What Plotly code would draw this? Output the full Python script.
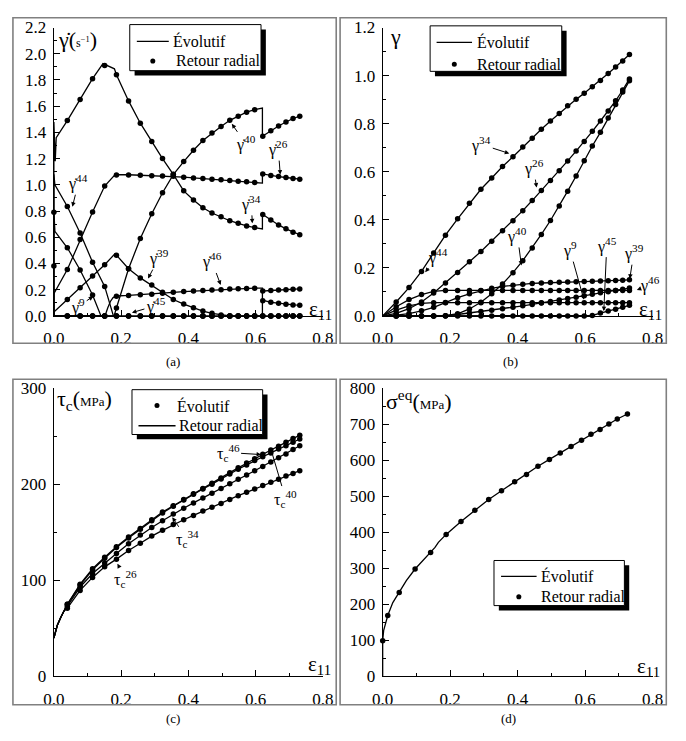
import plotly.graph_objects as go

FONT = "Liberation Serif"
W, H = 686, 741

# ---------------- data ----------------
# strain grid of the "Retour radial" dots (panels a, b, c)
eps = [0.040, 0.078, 0.115, 0.151, 0.186, 0.222, 0.257, 0.291, 0.323, 0.355,
       0.386, 0.415, 0.443, 0.470, 0.497, 0.523, 0.548, 0.573, 0.597, 0.621,
       0.645, 0.668, 0.690, 0.711, 0.731]

# tick labels
x_ticks = [0.0, 0.2, 0.4, 0.6, 0.8]
x_ticktext = ["0.0", "0.2", "0.4", "0.6", "0.8"]
ya_ticks = [0.0, 0.2, 0.4, 0.6, 0.8, 1.0, 1.2, 1.4, 1.6, 1.8, 2.0, 2.2]
ya_ticktext = ["0.0", "0.2", "0.4", "0.6", "0.8", "1.0", "1.2", "1.4", "1.6", "1.8", "2.0", "2.2"]
yb_ticks = [0.0, 0.2, 0.4, 0.6, 0.8, 1.0, 1.2]
yb_ticktext = ["0.0", "0.2", "0.4", "0.6", "0.8", "1.0", "1.2"]
yc_ticks = [0, 100, 200, 300]
yc_ticktext = ["0", "100", "200", "300"]
yd_ticks = [0, 100, 200, 300, 400, 500, 600, 700, 800]
yd_ticktext = ["0", "100", "200", "300", "400", "500", "600", "700", "800"]

# (a) slip rates, dots
ra_34 = [1.49, 1.65, 1.81, 1.91, 1.84, 1.64, 1.47, 1.33, 1.20, 1.08, 0.954, 0.885, 0.825,
         0.785, 0.756, 0.726, 0.706, 0.686, 0.674, 0.773, 0.731, 0.694, 0.664, 0.639, 0.619]
ra_40 = [0, 0, 0, 0, 0.06, 0.36, 0.59, 0.78, 0.94, 1.078, 1.177, 1.264, 1.338, 1.395, 1.445,
         1.492, 1.524, 1.554, 1.573, 1.37, 1.412, 1.449, 1.479, 1.506, 1.524]
ra_26 = [0.354, 0.582, 0.793, 0.991, 1.075, 1.075, 1.073, 1.070, 1.068, 1.065, 1.058, 1.053,
         1.048, 1.043, 1.038, 1.033, 1.028, 1.023, 1.018, 1.083, 1.071, 1.063, 1.056, 1.048, 1.043]
ra_44 = [0.835, 0.632, 0.41, 0.225, 0, 0, 0, 0, 0, 0, 0, 0, 0, 0, 0, 0, 0, 0, 0, 0, 0, 0, 0, 0, 0]
ra_9 = [0.52, 0.35, 0.16, 0, 0, 0, 0, 0, 0, 0, 0, 0, 0, 0, 0, 0, 0, 0, 0, 0, 0, 0, 0, 0, 0]
ra_39 = [0.125, 0.215, 0.305, 0.39, 0.463, 0.36, 0.29, 0.235, 0.18, 0.125, 0.09, 0.062, 0.037,
         0.02, 0.007, 0, 0, 0, 0, 0, 0, 0, 0, 0, 0]
ra_46 = [0, 0, 0, 0, 0.15, 0.156, 0.161, 0.166, 0.173, 0.18, 0.186, 0.19, 0.193, 0.198, 0.2,
         0.205, 0.208, 0.21, 0.212, 0.191, 0.194, 0.197, 0.2, 0.203, 0.206]
ra_45 = [0, 0, 0, 0, 0, 0, 0, 0, 0, 0, 0, 0, 0, 0, 0, 0, 0, 0, 0, 0.116, 0.104, 0.097, 0.089,
         0.084, 0.082]
ra_0x = [0.0, 0.0]
ra_0y = [0.79, 0.38]

# (a) slip rates, lines (Évolutif)
la_34x = [0, 0, 0.004, 0.007, 0.040, 0.078, 0.115, 0.146, 0.165, 0.180, 0.186, 0.222, 0.257,
          0.291, 0.323, 0.355, 0.386, 0.415, 0.443, 0.470, 0.497, 0.523, 0.548, 0.573, 0.597,
          0.620, 0.620, 0.645, 0.668, 0.690, 0.711, 0.731]
la_34y = [0, 1.48, 1.18, 1.36, 1.49, 1.65, 1.81, 1.925, 1.905, 1.885, 1.84, 1.64, 1.47, 1.33,
          1.20, 1.08, 0.954, 0.885, 0.825, 0.785, 0.756, 0.726, 0.706, 0.686, 0.674, 0.664,
          0.775, 0.731, 0.694, 0.664, 0.639, 0.619]
la_40x = [0, 0.179, 0.186, 0.222, 0.257, 0.291, 0.323, 0.355, 0.386, 0.415, 0.443, 0.470,
          0.497, 0.523, 0.548, 0.573, 0.597, 0.620, 0.620, 0.645, 0.668, 0.690, 0.711, 0.731]
la_40y = [0, 0, 0.06, 0.36, 0.59, 0.78, 0.94, 1.078, 1.177, 1.264, 1.338, 1.395, 1.445, 1.492,
          1.524, 1.554, 1.573, 1.586, 1.37, 1.412, 1.449, 1.479, 1.506, 1.524]
la_26x = [0, 0, 0.040, 0.078, 0.115, 0.151, 0.182, 0.222, 0.257, 0.291, 0.323, 0.355, 0.386,
          0.415, 0.443, 0.470, 0.497, 0.523, 0.548, 0.573, 0.597, 0.620, 0.620, 0.645, 0.668,
          0.690, 0.711, 0.731]
la_26y = [0, 0.17, 0.354, 0.582, 0.793, 0.991, 1.078, 1.077, 1.074, 1.071, 1.068, 1.065, 1.058,
          1.053, 1.048, 1.043, 1.038, 1.033, 1.028, 1.023, 1.018, 1.013, 1.083, 1.071, 1.063,
          1.056, 1.048, 1.043]
la_44x = [0, 0, 0.003, 0.040, 0.078, 0.115, 0.151, 0.177]
la_44y = [0, 1.08, 1.00, 0.835, 0.632, 0.41, 0.225, 0]
la_9x = [0, 0, 0.003, 0.040, 0.078, 0.115, 0.140]
la_9y = [0, 0.80, 0.645, 0.52, 0.35, 0.16, 0]
la_39x = [0, 0, 0.040, 0.078, 0.115, 0.151, 0.182, 0.186, 0.222, 0.257, 0.291, 0.323, 0.355,
          0.386, 0.415, 0.443, 0.470, 0.497, 0.523, 0.731]
la_39y = [0, 0.03, 0.125, 0.215, 0.305, 0.39, 0.475, 0.463, 0.36, 0.29, 0.235, 0.18, 0.125,
          0.09, 0.062, 0.037, 0.02, 0.007, 0, 0]
la_46x = [0, 0.152, 0.160, 0.168, 0.176, 0.186, 0.222, 0.257, 0.291, 0.323, 0.355, 0.386,
          0.415, 0.443, 0.470, 0.497, 0.523, 0.548, 0.573, 0.597, 0.620, 0.620, 0.620, 0.645,
          0.668, 0.690, 0.711, 0.731]
la_46y = [0, 0, 0.06, 0.11, 0.14, 0.152, 0.156, 0.161, 0.166, 0.173, 0.18, 0.186, 0.19, 0.193,
          0.198, 0.2, 0.205, 0.208, 0.21, 0.212, 0.212, 0.12, 0.19, 0.194, 0.197, 0.2, 0.203, 0.206]
la_45x = [0, 0.620, 0.620, 0.645, 0.668, 0.690, 0.711, 0.731]
la_45y = [0, 0, 0.12, 0.104, 0.097, 0.089, 0.084, 0.082]

# (b) accumulated slips
gb_34 = [0.058, 0.118, 0.185, 0.262, 0.336, 0.404, 0.469, 0.527, 0.574, 0.622, 0.662, 0.703,
         0.739, 0.777, 0.811, 0.842, 0.874, 0.901, 0.926, 0.953, 0.980, 1.009, 1.036, 1.061, 1.088]
gb_26 = [0.011, 0.030, 0.058, 0.095, 0.137, 0.181, 0.225, 0.268, 0.311, 0.354, 0.396, 0.438,
         0.480, 0.522, 0.563, 0.604, 0.645, 0.686, 0.726, 0.768, 0.811, 0.853, 0.895, 0.940, 0.986]
gb_40 = [0, 0, 0, 0, 0.001, 0.009, 0.029, 0.057, 0.092, 0.133, 0.180, 0.230, 0.283, 0.339,
         0.397, 0.457, 0.519, 0.582, 0.646, 0.707, 0.764, 0.823, 0.880, 0.932, 0.979]
gb_44 = [0.038, 0.068, 0.089, 0.102, 0.106, 0.106, 0.106, 0.106, 0.106, 0.106, 0.106, 0.106,
         0.106, 0.106, 0.106, 0.106, 0.106, 0.106, 0.106, 0.106, 0.106, 0.106, 0.106, 0.106, 0.106]
gb_9 = [0.024, 0.042, 0.052, 0.055, 0.055, 0.055, 0.055, 0.055, 0.055, 0.055, 0.055, 0.055,
        0.055, 0.055, 0.055, 0.055, 0.055, 0.055, 0.055, 0.055, 0.055, 0.055, 0.055, 0.055, 0.055]
gb_39 = [0.003, 0.010, 0.021, 0.036, 0.056, 0.076, 0.092, 0.105, 0.115, 0.123, 0.128, 0.132,
         0.135, 0.137, 0.139, 0.140, 0.141, 0.142, 0.143, 0.144, 0.145, 0.146, 0.147, 0.148, 0.150]
gb_46 = [0, 0, 0, 0, 0.001, 0.006, 0.012, 0.018, 0.024, 0.030, 0.036, 0.042, 0.048, 0.054,
         0.060, 0.066, 0.072, 0.078, 0.084, 0.090, 0.096, 0.101, 0.106, 0.111, 0.116]
gb_45 = [0, 0, 0, 0, 0, 0, 0, 0, 0, 0, 0, 0, 0, 0, 0, 0, 0, 0, 0, 0.002, 0.012, 0.020, 0.028,
         0.036, 0.044]

# (c) critical shear stresses (MPa)
tc_start_x = [0.0, 0.005, 0.010, 0.020, 0.030]
tc_start_y = [40, 48, 53, 61, 68]
tc_46 = [75, 96, 112, 124, 135, 145, 154, 163, 171, 177.5, 184, 190, 195.5, 201, 206.5, 212,
         217, 222, 226.5, 231, 235.5, 239.5, 243.5, 247.5, 251]
tc_40 = [75, 95, 111, 123, 134, 144, 153, 162, 170, 177, 183.5, 189.5, 195, 200, 205.5, 210.5,
         215.5, 220, 224.5, 228.5, 232.5, 236.5, 240, 243.5, 247]
tc_34 = [73, 93, 107, 118, 128, 138, 147, 155, 162, 169, 175, 180.5, 185.5, 190.5, 195.5,
         200.5, 205, 209.5, 214, 218.5, 223, 227.5, 231.5, 236, 240]
tc_26 = [71, 89.5, 103, 114, 122, 131, 138.5, 146, 152, 158, 163, 167.5, 172, 176, 180, 184,
         188, 191.5, 195, 198.5, 202, 205, 208.5, 211, 214]

# (d) equivalent stress (MPa)
eps_d = [0.0, 0.015, 0.049, 0.096, 0.142, 0.188, 0.232, 0.273, 0.314, 0.352, 0.391, 0.426,
         0.460, 0.494, 0.526, 0.558, 0.589, 0.617, 0.644, 0.670, 0.695, 0.725]
sig_d = [99, 169, 233, 298, 344, 394, 430, 461, 491, 515, 540, 560, 583, 602, 620, 638, 655,
         672, 685, 700, 714, 728]
ld_x = [0, 0, 0.003, 0.008, 0.015, 0.030, 0.049, 0.070, 0.096, 0.120, 0.142, 0.155, 0.165,
        0.188, 0.232, 0.273, 0.314, 0.352, 0.391, 0.426, 0.460, 0.494, 0.526, 0.558, 0.589,
        0.617, 0.644, 0.670, 0.695, 0.725]
ld_y = [0, 100, 128, 148, 169, 205, 233, 266, 298, 322, 344, 358, 372, 394, 430, 461, 491,
        515, 540, 560, 583, 602, 620, 638, 655, 672, 685, 700, 714, 728]

# ---------------- figure ----------------
def px(x):
    return x / W


def py(y):
    return 1 - y / H


fig = go.Figure()
LW = 1.3
MS = 5.5


def line(x, y, ax):
    fig.add_trace(go.Scatter(x=x, y=y, mode="lines", line=dict(color="black", width=LW),
                             xaxis="x" + ax, yaxis="y" + ax, showlegend=False,
                             cliponaxis=False, hoverinfo="skip"))


def dots(x, y, ax):
    fig.add_trace(go.Scatter(x=x, y=y, mode="markers", marker=dict(color="black", size=MS),
                             xaxis="x" + ax, yaxis="y" + ax, showlegend=False,
                             cliponaxis=False))


# panel a
for lx, ly in [(la_34x, la_34y), (la_40x, la_40y), (la_26x, la_26y), (la_44x, la_44y),
               (la_9x, la_9y), (la_39x, la_39y), (la_46x, la_46y), (la_45x, la_45y)]:
    line(lx, ly, "")
for ry in [ra_34, ra_40, ra_26, ra_44, ra_9, ra_39, ra_46, ra_45]:
    dots(eps, ry, "")
dots(ra_0x, ra_0y, "")

# panel b
for gy in [gb_34, gb_26, gb_40, gb_44, gb_9, gb_39, gb_46, gb_45]:
    line([0.0] + eps, [0.0] + gy, "2")
    dots(eps, gy, "2")

# panel c
for ty in [tc_46, tc_40, tc_34, tc_26]:
    line(tc_start_x + eps, tc_start_y + ty, "3")
    dots(eps, ty, "3")

# panel d
line(ld_x, ld_y, "4")
dots(eps_d, sig_d, "4")

tickfont = dict(family=FONT, size=17, color="black")


def xax(dom, anchor):
    return dict(domain=dom, anchor=anchor, range=[0, 0.8], tickmode="array",
                tickvals=x_ticks, ticktext=x_ticktext, ticklabelstandoff=7,
                showline=True, linecolor="black", linewidth=1.3,
                ticks="inside", ticklen=6, tickwidth=1.2, tickcolor="black",
                showgrid=False, zeroline=False, tickfont=tickfont,
                minor=dict(ticks="inside", ticklen=3, tickwidth=1, tickcolor="black",
                           tick0=0, dtick=0.1))


def yax(dom, anchor, rng, tv, tt, mdt):
    return dict(domain=dom, anchor=anchor, range=rng, tickmode="array",
                tickvals=tv, ticktext=tt, ticklabelstandoff=3,
                showline=True, linecolor="black", linewidth=1.3,
                ticks="inside", ticklen=6, tickwidth=1.2, tickcolor="black",
                showgrid=False, zeroline=False, tickfont=tickfont,
                minor=dict(ticks="inside", ticklen=3, tickwidth=1, tickcolor="black",
                           tick0=0, dtick=mdt))


xa_dom = [px(44.3), px(322.3)]
xb_dom = [px(384), px(663)]
ytop_dom = [py(315), py(19)]
ybot_dom = [py(685), py(389)]

fig.update_layout(
    width=W, height=H, margin=dict(l=0, r=0, t=0, b=0),
    paper_bgcolor="white", plot_bgcolor="rgba(0,0,0,0)",
    xaxis=xax(xa_dom, "y"), yaxis=yax(ytop_dom, "x", [0, 2.2], ya_ticks, ya_ticktext, 0.1),
    xaxis2=xax(xb_dom, "y2"), yaxis2=yax(ytop_dom, "x2", [0, 1.2], yb_ticks, yb_ticktext, 0.1),
    xaxis3=xax(xa_dom, "y3"), yaxis3=yax(ybot_dom, "x3", [0, 300], yc_ticks, yc_ticktext, 50),
    xaxis4=xax(xb_dom, "y4"), yaxis4=yax(ybot_dom, "x4", [0, 800], yd_ticks, yd_ticktext, 50),
    font=dict(family=FONT, color="black"),
)

shapes = []
# panel frames
for (x0, x1, y0, y1) in [(2, 336, 9, 343), (340, 677, 9, 343), (2, 336, 380, 714), (340, 677, 380, 714)]:
    shapes.append(dict(type="rect", xref="paper", yref="paper", x0=px(x0), x1=px(x1),
                       y0=py(y1), y1=py(y0), line=dict(color="#808080", width=1.6)))

annotations = []


def legend_box(x0, y0, x1, y1, rows):
    # shadow
    shapes.append(dict(type="rect", xref="paper", yref="paper", x0=px(x0 + 5), x1=px(x1 + 5),
                       y0=py(y1 + 5), y1=py(y0 + 5), fillcolor="black", line=dict(width=0)))
    shapes.append(dict(type="rect", xref="paper", yref="paper", x0=px(x0), x1=px(x1),
                       y0=py(y1), y1=py(y0), fillcolor="white", line=dict(color="black", width=1)))
    for (kind, sx0, sx1, sy, tx, label) in rows:
        if kind == "line":
            shapes.append(dict(type="line", xref="paper", yref="paper", x0=px(sx0), x1=px(sx1),
                               y0=py(sy), y1=py(sy), line=dict(color="black", width=LW)))
        else:
            cx = (sx0 + sx1) / 2
            shapes.append(dict(type="circle", xref="paper", yref="paper", x0=px(cx - 2.6),
                               x1=px(cx + 2.6), y0=py(sy + 2.6), y1=py(sy - 2.6),
                               fillcolor="black", line=dict(width=0)))
        annotations.append(dict(xref="paper", yref="paper", x=px(tx), y=py(sy), xanchor="left",
                                yanchor="middle", text=label, showarrow=False,
                                font=dict(family=FONT, size=16, color="black")))


legend_box(122.7, 16, 258.3, 63.3,
           [("line", 130, 163, 33.3, 165, "Évolutif"), ("dot", 130, 163, 53.3, 168, "Retour radial")])
legend_box(433, 17.3, 569, 64,
           [("line", 439.7, 476.3, 34.3, 479, "Évolutif"), ("dot", 439.7, 476.3, 56.7, 479, "Retour radial")])
legend_box(125, 390.7, 260, 436.7,
           [("dot", 131.7, 170, 407, 169, "Évolutif"), ("line", 131.7, 170, 427.7, 171, "Retour radial")])
legend_box(499, 566, 633.7, 612.3,
           [("line", 506.3, 543, 582.3, 545, "Évolutif"), ("dot", 506.3, 543, 603.3, 545, "Retour radial")])


def paper_text(x, y, text, size, xanchor="left"):
    annotations.append(dict(xref="paper", yref="paper", x=px(x), y=py(y), xanchor=xanchor,
                            yanchor="middle", text=text, showarrow=False,
                            font=dict(family=FONT, size=size, color="black")))


# axis titles
paper_text(47, 31, "γ̇(<span style='font-size:12px'>s<sup>−1</sup></span>)", 22)
paper_text(389, 28, "γ", 22)
paper_text(45, 401, "τ<sub>c</sub>(<span style='font-size:13px'>MPa</span>)", 22)
paper_text(385, 401, "σ<sup>eq</sup>(<span style='font-size:13px'>MPa</span>)", 22)
for (x, y) in [(306, 309), (647, 309), (305, 673), (645, 675)]:
    paper_text(x, y, "ε<sub>11</sub>", 21)
# panel captions
for (x, y, t) in [(167, 362, "(a)"), (516, 362, "(b)"), (167, 728, "(c)"), (514, 728, "(d)")]:
    paper_text(x, y, t, 13, "center")


def arrow_label(ax_name, x, y, dx, dy, text, size=16, head=2):
    annotations.append(dict(xref="x" + ax_name, yref="y" + ax_name, x=x, y=y, ax=dx, ay=dy,
                            text=text, showarrow=True, arrowhead=head, arrowsize=0.9,
                            arrowwidth=1, arrowcolor="black", standoff=0,
                            font=dict(family=FONT, size=size, color="black")))


# panel a labels
arrow_label("", 0.529, 1.465, 14, 20, "γ̇<sup>40</sup>")
arrow_label("", 0.673, 1.078, -2, -26, "γ̇<sup>26</sup>")
arrow_label("", 0.590, 0.706, -1, -20, "γ̇<sup>34</sup>")
arrow_label("", 0.055, 0.833, 6, -24, "γ̇<sup>44</sup>")
arrow_label("", 0.280, 0.285, 11, -21, "γ̇<sup>39</sup>")
arrow_label("", 0.496, 0.236, -9, -24, "γ̇<sup>46</sup>")
arrow_label("", 0.117, 0.149, -15, 10, "γ̇<sup>9</sup>")
arrow_label("", 0.232, 0.025, 24, -7, "γ̇<sup>45</sup>")
# panel b labels
arrow_label("2", 0.375, 0.676, -28, -9, "γ<sup>34</sup>")
arrow_label("2", 0.456, 0.534, -3, -20, "γ<sup>26</sup>")
arrow_label("2", 0.411, 0.210, -4, -30, "γ<sup>40</sup>")
arrow_label("2", 0.126, 0.182, 13, -16, "γ<sup>44</sup>")
arrow_label("2", 0.596, 0.068, -14, -50, "γ<sup>9</sup>")
arrow_label("2", 0.655, 0.020, 3, -66, "γ<sup>45</sup>")
arrow_label("2", 0.732, 0.155, 4, -26, "γ<sup>39</sup>")
arrow_label("2", 0.753, 0.108, 13, -5, "γ<sup>46</sup>")
# panel c labels
arrow_label("3", 0.616, 230.8, -33, -2, "τ<sub>c</sub><sup>46</sup>")
arrow_label("3", 0.650, 230.8, 13, 44, "τ<sub>c</sub><sup>40</sup>", head=0)
arrow_label("3", 0.352, 165.5, 15, 22, "τ<sub>c</sub><sup>34</sup>")
arrow_label("3", 0.189, 117.3, 8, 15, "τ<sub>c</sub><sup>26</sup>")

fig.update_layout(shapes=shapes, annotations=annotations)
fig.write_html("out.html")
